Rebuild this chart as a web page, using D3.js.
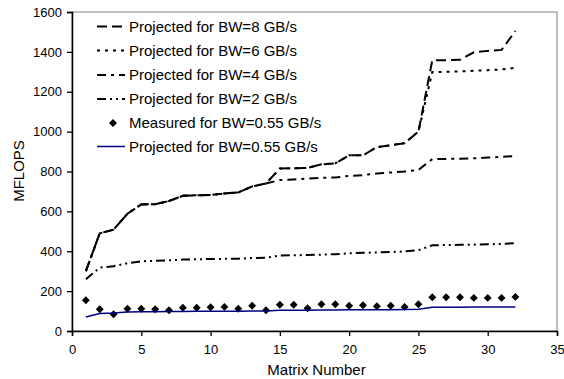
<!DOCTYPE html>
<html>
<head>
<meta charset="utf-8">
<script src="https://cdn.jsdelivr.net/npm/d3@7"></script>
<style>
  body { margin: 0; background: #fff; }
  svg { font-family: "Liberation Sans", Arial, sans-serif; }
</style>
</head>
<body>
<script>
const width = 564;
const height = 379;
const margin = { top: 12, right: 7, bottom: 48, left: 72 };

const matrixNumbers = d3.range(1, 33);
const bw8 = [300, 490, 508, 588, 635, 636, 652, 678, 681, 682, 690, 695, 725, 740, 815, 816, 818, 836, 841, 881, 881, 922, 932, 942, 1000, 1358, 1358, 1360, 1398, 1405, 1410, 1505];
const bw6 = [300, 490, 508, 588, 635, 636, 652, 678, 681, 682, 690, 695, 725, 740, 815, 816, 818, 836, 841, 881, 881, 922, 932, 942, 1000, 1299, 1300, 1302, 1305, 1308, 1312, 1320];
const bw4 = [300, 490, 508, 588, 635, 636, 652, 678, 681, 682, 690, 695, 725, 740, 757, 760, 764, 768, 770, 778, 782, 790, 795, 800, 808, 862, 863, 864, 866, 870, 873, 878];
const bw2 = [259, 318, 325, 340, 350, 352, 355, 358, 360, 361, 362, 363, 366, 368, 378, 380, 381, 383, 385, 390, 392, 394, 396, 399, 405, 430, 431, 432, 433, 435, 437, 440];
const measured = [154, 109, 84, 112, 112, 109, 104, 117, 117, 119, 121, 112, 127, 104, 132, 132, 114, 134, 134, 127, 129, 124, 127, 121, 134, 169, 169, 169, 166, 166, 166, 171];
const projected055 = [70, 88, 90, 95, 97, 97, 98, 98, 99, 99, 99, 99, 100, 100, 104, 104, 104, 105, 105, 106, 106, 107, 107, 108, 109, 119, 119, 119, 120, 120, 120, 120];

const xTicks = [0, 5, 10, 15, 20, 25, 30, 35];
const yTicks = [0, 200, 400, 600, 800, 1000, 1200, 1400, 1600];

const series = [
  { name: 'Projected for BW=8 GB/s', values: bw8, dash: '10,5', color: '#000', w: 2 },
  { name: 'Projected for BW=6 GB/s', values: bw6, dash: '3,5', color: '#000', w: 2 },
  { name: 'Projected for BW=4 GB/s', values: bw4, dash: '9,5,3,5', color: '#000', w: 2 },
  { name: 'Projected for BW=2 GB/s', values: bw2, dash: '9,4,2,4,2,4', color: '#000', w: 2 },
  { name: 'Measured for BW=0.55 GB/s', values: measured, marker: true },
  { name: 'Projected for BW=0.55 GB/s', values: projected055, dash: null, color: '#000080', w: 1.5 }
];

const svg = d3.select('body').append('svg').attr('width', width).attr('height', height);

const x = d3.scaleLinear().domain([0, 35]).range([margin.left, width - margin.right]);
const y = d3.scaleLinear().domain([0, 1600]).range([height - margin.bottom, margin.top]);

// frame (top and right in grey)
svg.append('rect')
  .attr('x', x(0)).attr('y', y(1600))
  .attr('width', x(35) - x(0)).attr('height', y(0) - y(1600))
  .attr('fill', 'none').attr('stroke', '#808080').attr('stroke-width', 1);

const xAxis = svg.append('g')
  .attr('transform', `translate(0,${y(0)})`)
  .call(d3.axisBottom(x).tickValues(xTicks).tickFormat(d3.format('d')).tickSize(5).tickPadding(9));
const yAxis = svg.append('g')
  .attr('transform', `translate(${x(0)},0)`)
  .call(d3.axisLeft(y).tickValues(yTicks).tickFormat(d3.format('d')).tickSize(5).tickPadding(5));

[xAxis, yAxis].forEach(g => {
  g.select('.domain').attr('stroke', '#000').attr('stroke-width', 1.5);
  g.selectAll('.tick line').attr('stroke', '#000').attr('stroke-width', 1.3);
  g.selectAll('.tick text').attr('font-size', 13).attr('fill', '#000')
    .attr('font-family', '"Liberation Sans", Arial, sans-serif');
});

svg.append('text')
  .attr('x', x(17.5) + 2).attr('y', 375)
  .attr('text-anchor', 'middle').attr('font-size', 15)
  .text('Matrix Number');

svg.append('text')
  .attr('transform', `translate(24,171) rotate(-90)`)
  .attr('text-anchor', 'middle').attr('font-size', 15)
  .text('MFLOPS');

const line = d3.line().x((d, i) => x(matrixNumbers[i])).y(d => y(d));

function diamond(sel, cx, cy) {
  sel.append('path')
    .attr('d', d3.symbol().type(d3.symbolDiamond2).size(40)())
    .attr('transform', `translate(${cx},${cy})`)
    .attr('fill', '#000');
}

series.forEach(s => {
  if (s.marker) {
    s.values.forEach((v, i) => diamond(svg, x(matrixNumbers[i]), y(v)));
  } else {
    svg.append('path')
      .datum(s.values)
      .attr('d', line)
      .attr('fill', 'none')
      .attr('stroke', s.color)
      .attr('stroke-width', s.w)
      .attr('stroke-dasharray', s.dash);
  }
});

// legend
const legendRows = [31.5, 55.5, 80, 104, 128, 151.5];
const legend = svg.append('g');
series.forEach((s, i) => {
  const ly = legendRows[i] - 5;
  if (s.marker) {
    diamond(legend, 113, ly);
  } else {
    legend.append('line')
      .attr('x1', 97).attr('x2', 125).attr('y1', ly).attr('y2', ly)
      .attr('stroke', s.color).attr('stroke-width', s.w)
      .attr('stroke-dasharray', s.dash);
  }
  legend.append('text')
    .attr('x', 129).attr('y', legendRows[i])
    .attr('font-size', 15)
    .text(s.name);
});
</script>
</body>
</html>
